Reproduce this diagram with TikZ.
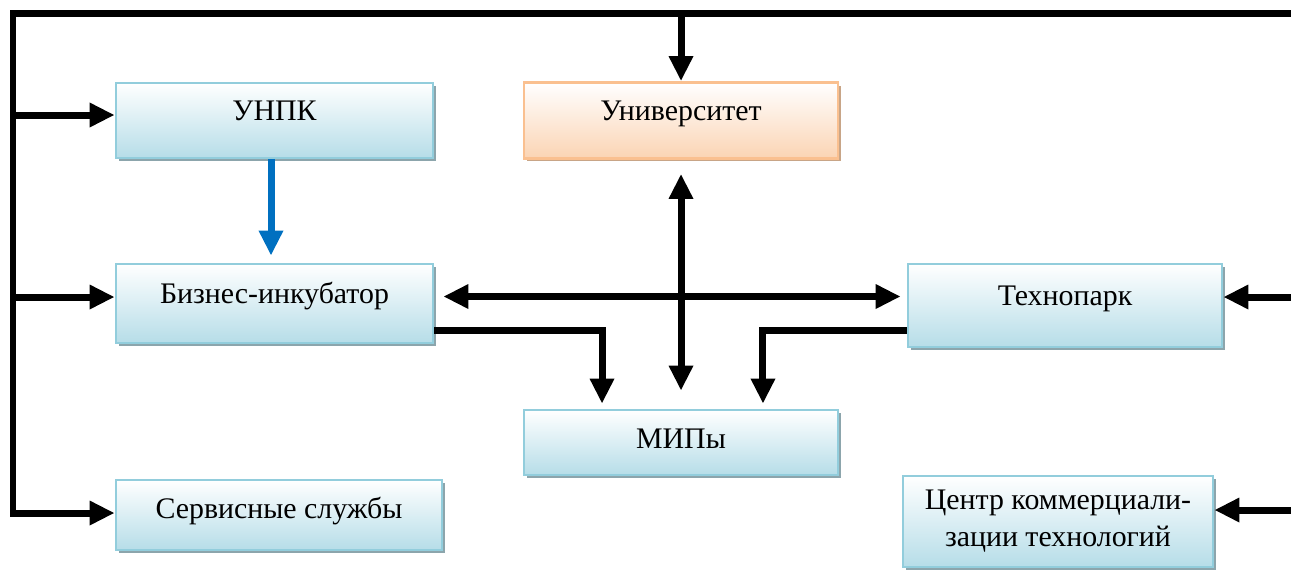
\documentclass[tikz,border=0pt]{standalone}
\usepackage{fontspec}
\setmainfont{Liberation Serif}
\usepackage{xcolor}
\usepackage{tikz}
\usetikzlibrary{arrows.meta, positioning, calc, shadows}
\definecolor{boxline}{RGB}{146,205,220}
\definecolor{boxfill}{RGB}{182,221,232}
\definecolor{boxshade}{RGB}{140,165,172}
\definecolor{uniline}{RGB}{250,192,144}
\definecolor{unifill}{RGB}{251,212,180}
\definecolor{unishade}{RGB}{200,165,135}
\definecolor{linkblue}{RGB}{0,112,192}

\begin{document}
\begin{tikzpicture}[
    x=0.02cm, y=-0.02cm,
    font=\fontsize{17}{21}\selectfont,
    block/.style={rectangle, draw=boxline, line width=1.6pt, top color=white, bottom color=boxfill,
        inner sep=0pt, align=center,
        drop shadow={shadow xshift=0.06cm, shadow yshift=-0.06cm, fill=boxshade, opacity=1}},
    uniblock/.style={block, draw=uniline, bottom color=unifill,
        drop shadow={shadow xshift=0.06cm, shadow yshift=-0.06cm, fill=unishade, opacity=1}},
    lift/.style={text height=0.45cm, text depth=#1},
    link/.style={-{Triangle[length=0.5cm, width=0.46cm]}, line width=0.14cm},
    dlink/.style={{Triangle[length=0.5cm, width=0.46cm]}-{Triangle[length=0.5cm, width=0.46cm]}, line width=0.14cm}
]
    \useasboundingbox (0,0) rectangle (1291,569);

    \node[block, lift=0.45cm, minimum width=6.34cm, minimum height=1.5cm] (unpk) at (274.5,120.5) {УНПК};
    \node[uniblock, lift=0.45cm, minimum width=6.28cm, minimum height=1.52cm] (univ) at (681,120.5) {Университет};
    \node[block, lift=0.45cm, minimum width=6.34cm, minimum height=1.58cm] (biz) at (274.5,303.5) {Бизнес-инкубатор};
    \node[block, lift=0.45cm, minimum width=6.28cm, minimum height=1.66cm] (techno) at (1065,305.5) {Технопарк};
    \node[block, lift=0.23cm, minimum width=6.28cm, minimum height=1.3cm] (mip) at (681,442.5) {МИПы};
    \node[block, lift=0.33cm, minimum width=6.52cm, minimum height=1.4cm] (serv) at (279,515) {Сервисные службы};
    \node[block, minimum width=6.2cm, minimum height=1.82cm] (centr) at (1058,521.5) {Центр коммерциали-\\зации технологий};

    % outer bus
    \coordinate (tl) at (13,13);
    \coordinate (tr) at (1291,13);
    \coordinate (rt) at (1291,297);
    \coordinate (rc) at (1291,510);
    \draw[link] (tr) -- (tl) -- ([yshift=0.04cm]tl |- serv.west) -- ([yshift=0.04cm]serv.west);
    \draw[link] ([yshift=0.11cm]tl |- unpk.west) -- ([yshift=0.11cm]unpk.west);
    \draw[link] ([yshift=0.13cm]tl |- biz.west) -- ([yshift=0.13cm]biz.west);
    \draw[link] (univ.north |- tl) -- (univ.north);
    \draw[link] (rt) -- (rt -| techno.east);
    \draw[link] (rc) -- (rc -| centr.east);

    % inner links
    \draw[link, color=linkblue, shorten >=0.14cm] ([xshift=-0.07cm]unpk.south) -- ([xshift=-0.07cm]biz.north);
    \draw[dlink, shorten <=0.18cm, shorten >=0.12cm] ([yshift=0.14cm]biz.east) -- ([yshift=0.14cm]biz.east -| techno.west);
    \draw[dlink, shorten <=0.28cm, shorten >=0.36cm] (univ.south) -- (mip.north);
    \draw[link, shorten >=0.1cm] ([yshift=0.28cm]biz.south east) -| ([xshift=-1.58cm]mip.north);
    \draw[link, shorten >=0.1cm] ([yshift=0.36cm]techno.south west) -| ([xshift=1.64cm]mip.north);
\end{tikzpicture}
\end{document}
